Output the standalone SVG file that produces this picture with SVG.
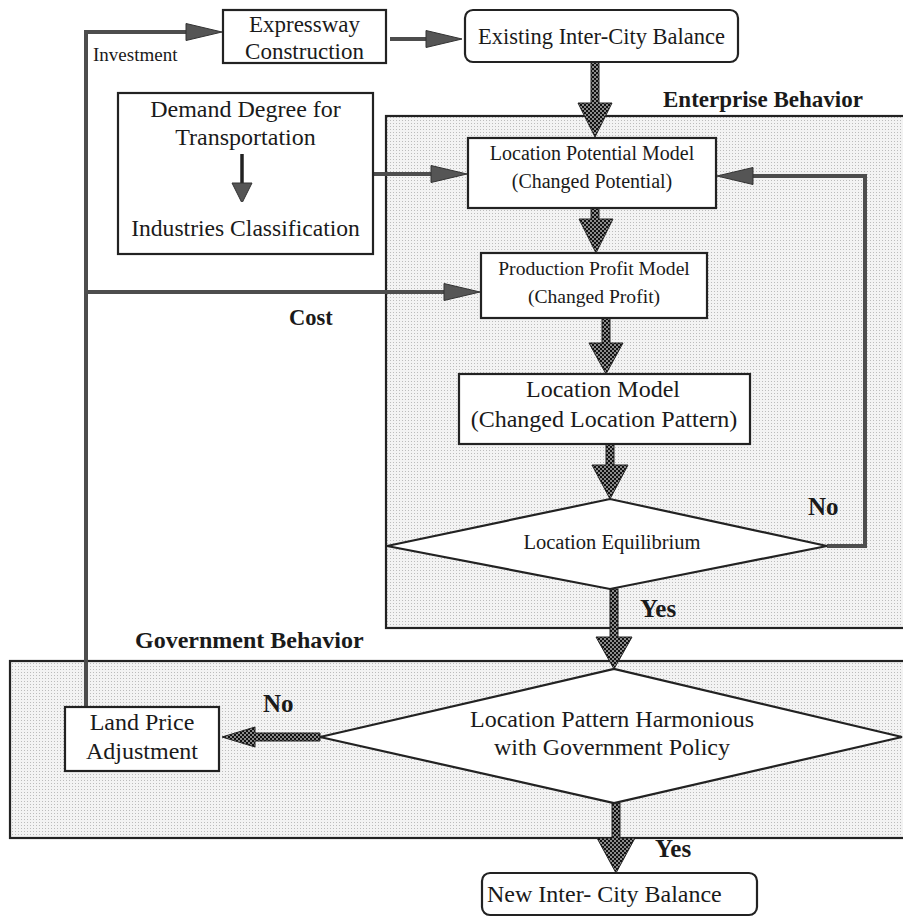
<svg xmlns="http://www.w3.org/2000/svg" width="903" height="917" viewBox="0 0 903 917">
<defs>
<style>
.t{font-family:"Liberation Serif","Times New Roman","DejaVu Serif",serif;fill:#1a1a1a;}
.b{font-family:"Liberation Serif","Times New Roman","DejaVu Serif",serif;font-weight:bold;fill:#1a1a1a;}
.box{fill:#fff;stroke:#222;stroke-width:2.2;}
.region{fill:url(#stip);stroke:#222;stroke-width:2.2;}
.gl{fill:none;stroke:#4d4d4d;stroke-width:4;}
.ha{fill:url(#chk);stroke:#222;stroke-width:1;}
</style>
<pattern id="stip" width="3" height="3" patternUnits="userSpaceOnUse"><rect width="3" height="3" fill="#f3f3f3"/><rect width="1" height="1" fill="#bcbcbc"/></pattern>
<pattern id="chk" width="4" height="4" patternUnits="userSpaceOnUse"><rect width="4" height="4" fill="#8a8a8a"/><rect width="2" height="2" fill="#111"/><rect x="2" y="2" width="2" height="2" fill="#111"/></pattern>
<marker id="ah" markerUnits="userSpaceOnUse" markerWidth="38" markerHeight="20" refX="28" refY="10" orient="auto"><path d="M1,1.5 L37,10 L1,18.5 Z" fill="#555" stroke="#333" stroke-width="1"/></marker>
<marker id="ahs" markerUnits="userSpaceOnUse" markerWidth="20" markerHeight="24" refX="14" refY="12" orient="auto"><path d="M1,2 L21,12 L1,22 Z" fill="#555" stroke="#333" stroke-width="1"/></marker>
</defs>
<rect width="903" height="917" fill="#fff"/>

<g id="enterprise-region">
<rect class="region" x="386" y="116" width="522" height="512"/>
<text class="b" x="663" y="107" font-size="23">Enterprise Behavior</text>
</g>
<g id="government-region">
<rect class="region" x="10" y="661" width="900" height="177"/>
<text class="b" x="135" y="648" font-size="24">Government Behavior</text>
</g>

<g id="connectors">
<path class="gl" d="M86,706 V32 H213" marker-end="url(#ah)"/>
<path class="gl" d="M86,292 H471" marker-end="url(#ah)"/>
<path class="gl" d="M390,39 H453" marker-end="url(#ah)"/>
<path class="gl" d="M373,174 H458" marker-end="url(#ah)"/>
<path class="gl" d="M827,546 H865 V176 H726" marker-end="url(#ah)"/>
<polygon class="ha" points="591,62 599,62 599,103 612,103 595,137 578,103 591,103"/>
<polygon class="ha" points="591,208 599,208 599,219 613,219 596,253 579,219 591,219"/>
<polygon class="ha" points="602,318 610,318 610,343 623,343 606,374 589,343 602,343"/>
<polygon class="ha" points="606,444 614,444 614,465 628,465 610,499 592,465 606,465"/>
<polygon class="ha" points="610,589 618,589 618,637 632,637 614,669 596,637 610,637"/>
<polygon class="ha" points="612,803 620,803 620,838 635,838 616,873 597,838 612,838"/>
<polygon class="ha" points="320,733 320,741 255,741 255,747 222,737 255,727 255,733"/>
<text class="b" x="289" y="325" font-size="22.5">Cost</text>
<text class="t" x="93" y="61" font-size="19">Investment</text>
<text class="b" x="808" y="515" font-size="25">No</text>
<text class="b" x="640" y="617" font-size="25">Yes</text>
<text class="b" x="263" y="712" font-size="25">No</text>
<text class="b" x="655" y="857" font-size="25">Yes</text>
</g>

<g id="expressway">
<rect class="box" x="223" y="10" width="163" height="53"/>
<text class="t" x="304.5" y="32" font-size="23" text-anchor="middle">Expressway</text>
<text class="t" x="304.5" y="59" font-size="23" text-anchor="middle">Construction</text>
</g>
<g id="existing-balance">
<rect class="box" x="465" y="10" width="273" height="52" rx="8"/>
<text class="t" x="601.5" y="44" font-size="22.5" text-anchor="middle">Existing Inter-City Balance</text>
</g>
<g id="demand">
<rect class="box" x="118" y="93" width="255" height="161"/>
<text class="t" x="245.5" y="117" font-size="24" text-anchor="middle">Demand Degree for</text>
<text class="t" x="245.5" y="145" font-size="24" text-anchor="middle">Transportation</text>
<path d="M242,154 V196" fill="none" stroke="#222" stroke-width="3.5" marker-end="url(#ahs)"/>
<text class="t" x="245.5" y="236" font-size="23.6" text-anchor="middle">Industries Classification</text>
</g>
<g id="location-potential">
<rect class="box" x="468" y="138" width="248" height="70"/>
<text class="t" x="592" y="160" font-size="20" text-anchor="middle">Location Potential Model</text>
<text class="t" x="592" y="188" font-size="20" text-anchor="middle">(Changed Potential)</text>
</g>
<g id="production-profit">
<rect class="box" x="481" y="253" width="226" height="65"/>
<text class="t" x="594" y="275" font-size="19.6" text-anchor="middle">Production Profit Model</text>
<text class="t" x="594" y="303" font-size="19.6" text-anchor="middle">(Changed Profit)</text>
</g>
<g id="location-model">
<rect class="box" x="459" y="374" width="291" height="70"/>
<text class="t" x="603" y="397" font-size="24" text-anchor="middle">Location Model</text>
<text class="t" x="604" y="427" font-size="24" text-anchor="middle">(Changed Location Pattern)</text>
</g>
<g id="location-equilibrium">
<polygon class="box" points="387,546 610,499 827,546 610,589"/>
<text class="t" x="612" y="549" font-size="20.5" text-anchor="middle">Location Equilibrium</text>
</g>
<g id="harmonious">
<polygon class="box" points="320,737 614,669 902,737 614,803"/>
<text class="t" x="612" y="727" font-size="24" text-anchor="middle">Location Pattern Harmonious</text>
<text class="t" x="612" y="755" font-size="24" text-anchor="middle">with Government Policy</text>
</g>
<g id="land-price">
<rect class="box" x="65" y="707" width="154" height="64"/>
<text class="t" x="142" y="730" font-size="24" text-anchor="middle">Land Price</text>
<text class="t" x="142" y="759" font-size="24" text-anchor="middle">Adjustment</text>
</g>
<g id="new-balance">
<rect class="box" x="482" y="873" width="275" height="42" rx="8"/>
<text class="t" x="487" y="902" font-size="24">New Inter- City Balance</text>
</g>
</svg>
